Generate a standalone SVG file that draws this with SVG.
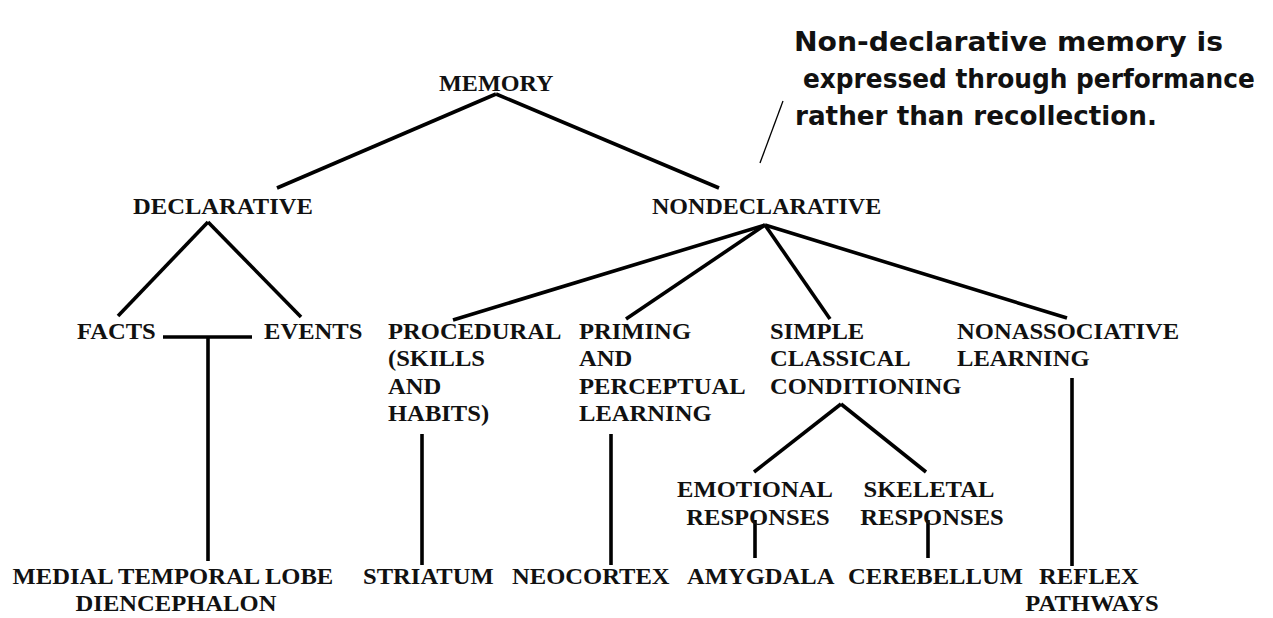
<svg xmlns="http://www.w3.org/2000/svg" width="1273" height="618" viewBox="0 0 1273 618">
  <style>
    .lbl { font-family: "Liberation Serif", "Times New Roman", serif; font-weight: bold; font-size: 23px; fill: #111; }
    .note { font-family: "DejaVu Sans", "Liberation Sans", sans-serif; font-weight: bold; font-size: 26px; fill: #111; }
    .edge { stroke: #000; stroke-width: 3.6; fill: none; stroke-linecap: butt; }
    .pointer { stroke: #000; stroke-width: 1.3; fill: none; }
  </style>
  <rect width="1273" height="618" fill="#fff"/>

  <!-- tree connectors -->
  <g id="connectors">
    <line class="edge" x1="496" y1="94" x2="277" y2="188"/>
    <line class="edge" x1="496" y1="94" x2="719" y2="188"/>
    <line class="edge" x1="208" y1="222" x2="118" y2="316"/>
    <line class="edge" x1="208" y1="222" x2="301" y2="317"/>
    <line class="edge" x1="163" y1="337" x2="252" y2="337"/>
    <line class="edge" x1="208" y1="337" x2="208" y2="561"/>
    <line class="edge" x1="765" y1="225" x2="453" y2="320"/>
    <line class="edge" x1="765" y1="225" x2="626" y2="319"/>
    <line class="edge" x1="765" y1="225" x2="830" y2="319"/>
    <line class="edge" x1="765" y1="225" x2="1067" y2="318"/>
    <line class="edge" x1="422" y1="434" x2="422" y2="565"/>
    <line class="edge" x1="611" y1="434" x2="611" y2="565"/>
    <line class="edge" x1="841" y1="404" x2="754" y2="472"/>
    <line class="edge" x1="841" y1="404" x2="926" y2="472"/>
    <line class="edge" x1="755" y1="520" x2="755" y2="558"/>
    <line class="edge" x1="928" y1="520" x2="928" y2="558"/>
    <line class="edge" x1="1072" y1="378" x2="1072" y2="566"/>
    <line class="pointer" x1="783" y1="101" x2="760" y2="163"/>
  </g>

  <g id="memory"><text class="lbl" font-size="22.5" transform="translate(439,91) scale(1.05,1)">MEMORY</text></g>
  <g id="declarative"><text class="lbl" transform="translate(133,214) scale(1.07,1)">DECLARATIVE</text></g>
  <g id="nondeclarative"><text class="lbl" font-size="22.5" transform="translate(652,214) scale(1.045,1)">NONDECLARATIVE</text></g>

  <g id="facts"><text class="lbl" transform="translate(77,339) scale(1.07,1)">FACTS</text></g>
  <g id="events"><text class="lbl" transform="translate(264,339) scale(1.07,1)">EVENTS</text></g>

  <g id="procedural">
    <text class="lbl" transform="translate(388,339) scale(1.07,1)">
      <tspan x="0" y="0">PROCEDURAL</tspan>
      <tspan x="0" y="27.4">(SKILLS</tspan>
      <tspan x="0" y="54.8">AND</tspan>
      <tspan x="0" y="82.2">HABITS)</tspan>
    </text>
  </g>
  <g id="priming">
    <text class="lbl" transform="translate(579,339) scale(1.07,1)">
      <tspan x="0" y="0">PRIMING</tspan>
      <tspan x="0" y="27.4">AND</tspan>
      <tspan x="0" y="54.8">PERCEPTUAL</tspan>
      <tspan x="0" y="82.2">LEARNING</tspan>
    </text>
  </g>
  <g id="classical">
    <text class="lbl" transform="translate(770,339) scale(1.07,1)">
      <tspan x="0" y="0">SIMPLE</tspan>
      <tspan x="0" y="27.4">CLASSICAL</tspan>
      <tspan x="0" y="54.8">CONDITIONING</tspan>
    </text>
  </g>
  <g id="nonassociative">
    <text class="lbl" transform="translate(957,339) scale(1.07,1)">
      <tspan x="0" y="0">NONASSOCIATIVE</tspan>
      <tspan x="0" y="27.4">LEARNING</tspan>
    </text>
  </g>

  <g id="emotional">
    <text class="lbl" text-anchor="middle" font-size="22" transform="translate(758,497) scale(1.07,1)">
      <tspan x="0" y="0">EMOTIONAL</tspan>
      <tspan x="0" y="28">RESPONSES</tspan>
    </text>
  </g>
  <g id="skeletal">
    <text class="lbl" text-anchor="middle" font-size="22" transform="translate(932,497) scale(1.07,1)">
      <tspan x="0" y="0">SKELETAL</tspan>
      <tspan x="0" y="28">RESPONSES</tspan>
    </text>
  </g>

  <g id="medial-temporal">
    <text class="lbl" text-anchor="middle" font-size="22.5" transform="translate(176,584) scale(1.07,1)">
      <tspan x="0" y="0">MEDIAL TEMPORAL LOBE</tspan>
      <tspan x="0" y="27">DIENCEPHALON</tspan>
    </text>
  </g>
  <g id="striatum"><text class="lbl" font-size="22.5" transform="translate(363,584) scale(1.07,1)">STRIATUM</text></g>
  <g id="neocortex"><text class="lbl" font-size="22.5" transform="translate(512,584) scale(1.07,1)">NEOCORTEX</text></g>
  <g id="amygdala"><text class="lbl" font-size="22.5" transform="translate(687,584) scale(1.07,1)">AMYGDALA</text></g>
  <g id="cerebellum"><text class="lbl" font-size="22.5" transform="translate(848,584) scale(1.07,1)">CEREBELLUM</text></g>
  <g id="reflex">
    <text class="lbl" text-anchor="middle" font-size="22.5" transform="translate(1092,584) scale(1.07,1)">
      <tspan x="0" y="0">REFLEX</tspan>
      <tspan x="0" y="27">PATHWAYS</tspan>
    </text>
  </g>

  <g id="note">
    <text class="note" x="794" y="51" textLength="429" lengthAdjust="spacingAndGlyphs">Non-declarative memory is</text>
    <text class="note" transform="translate(803,88) scale(0.9,1)" textLength="502" lengthAdjust="spacingAndGlyphs">expressed through performance</text>
    <text class="note" x="795" y="125" textLength="362" lengthAdjust="spacingAndGlyphs">rather than recollection.</text>
  </g>
</svg>
